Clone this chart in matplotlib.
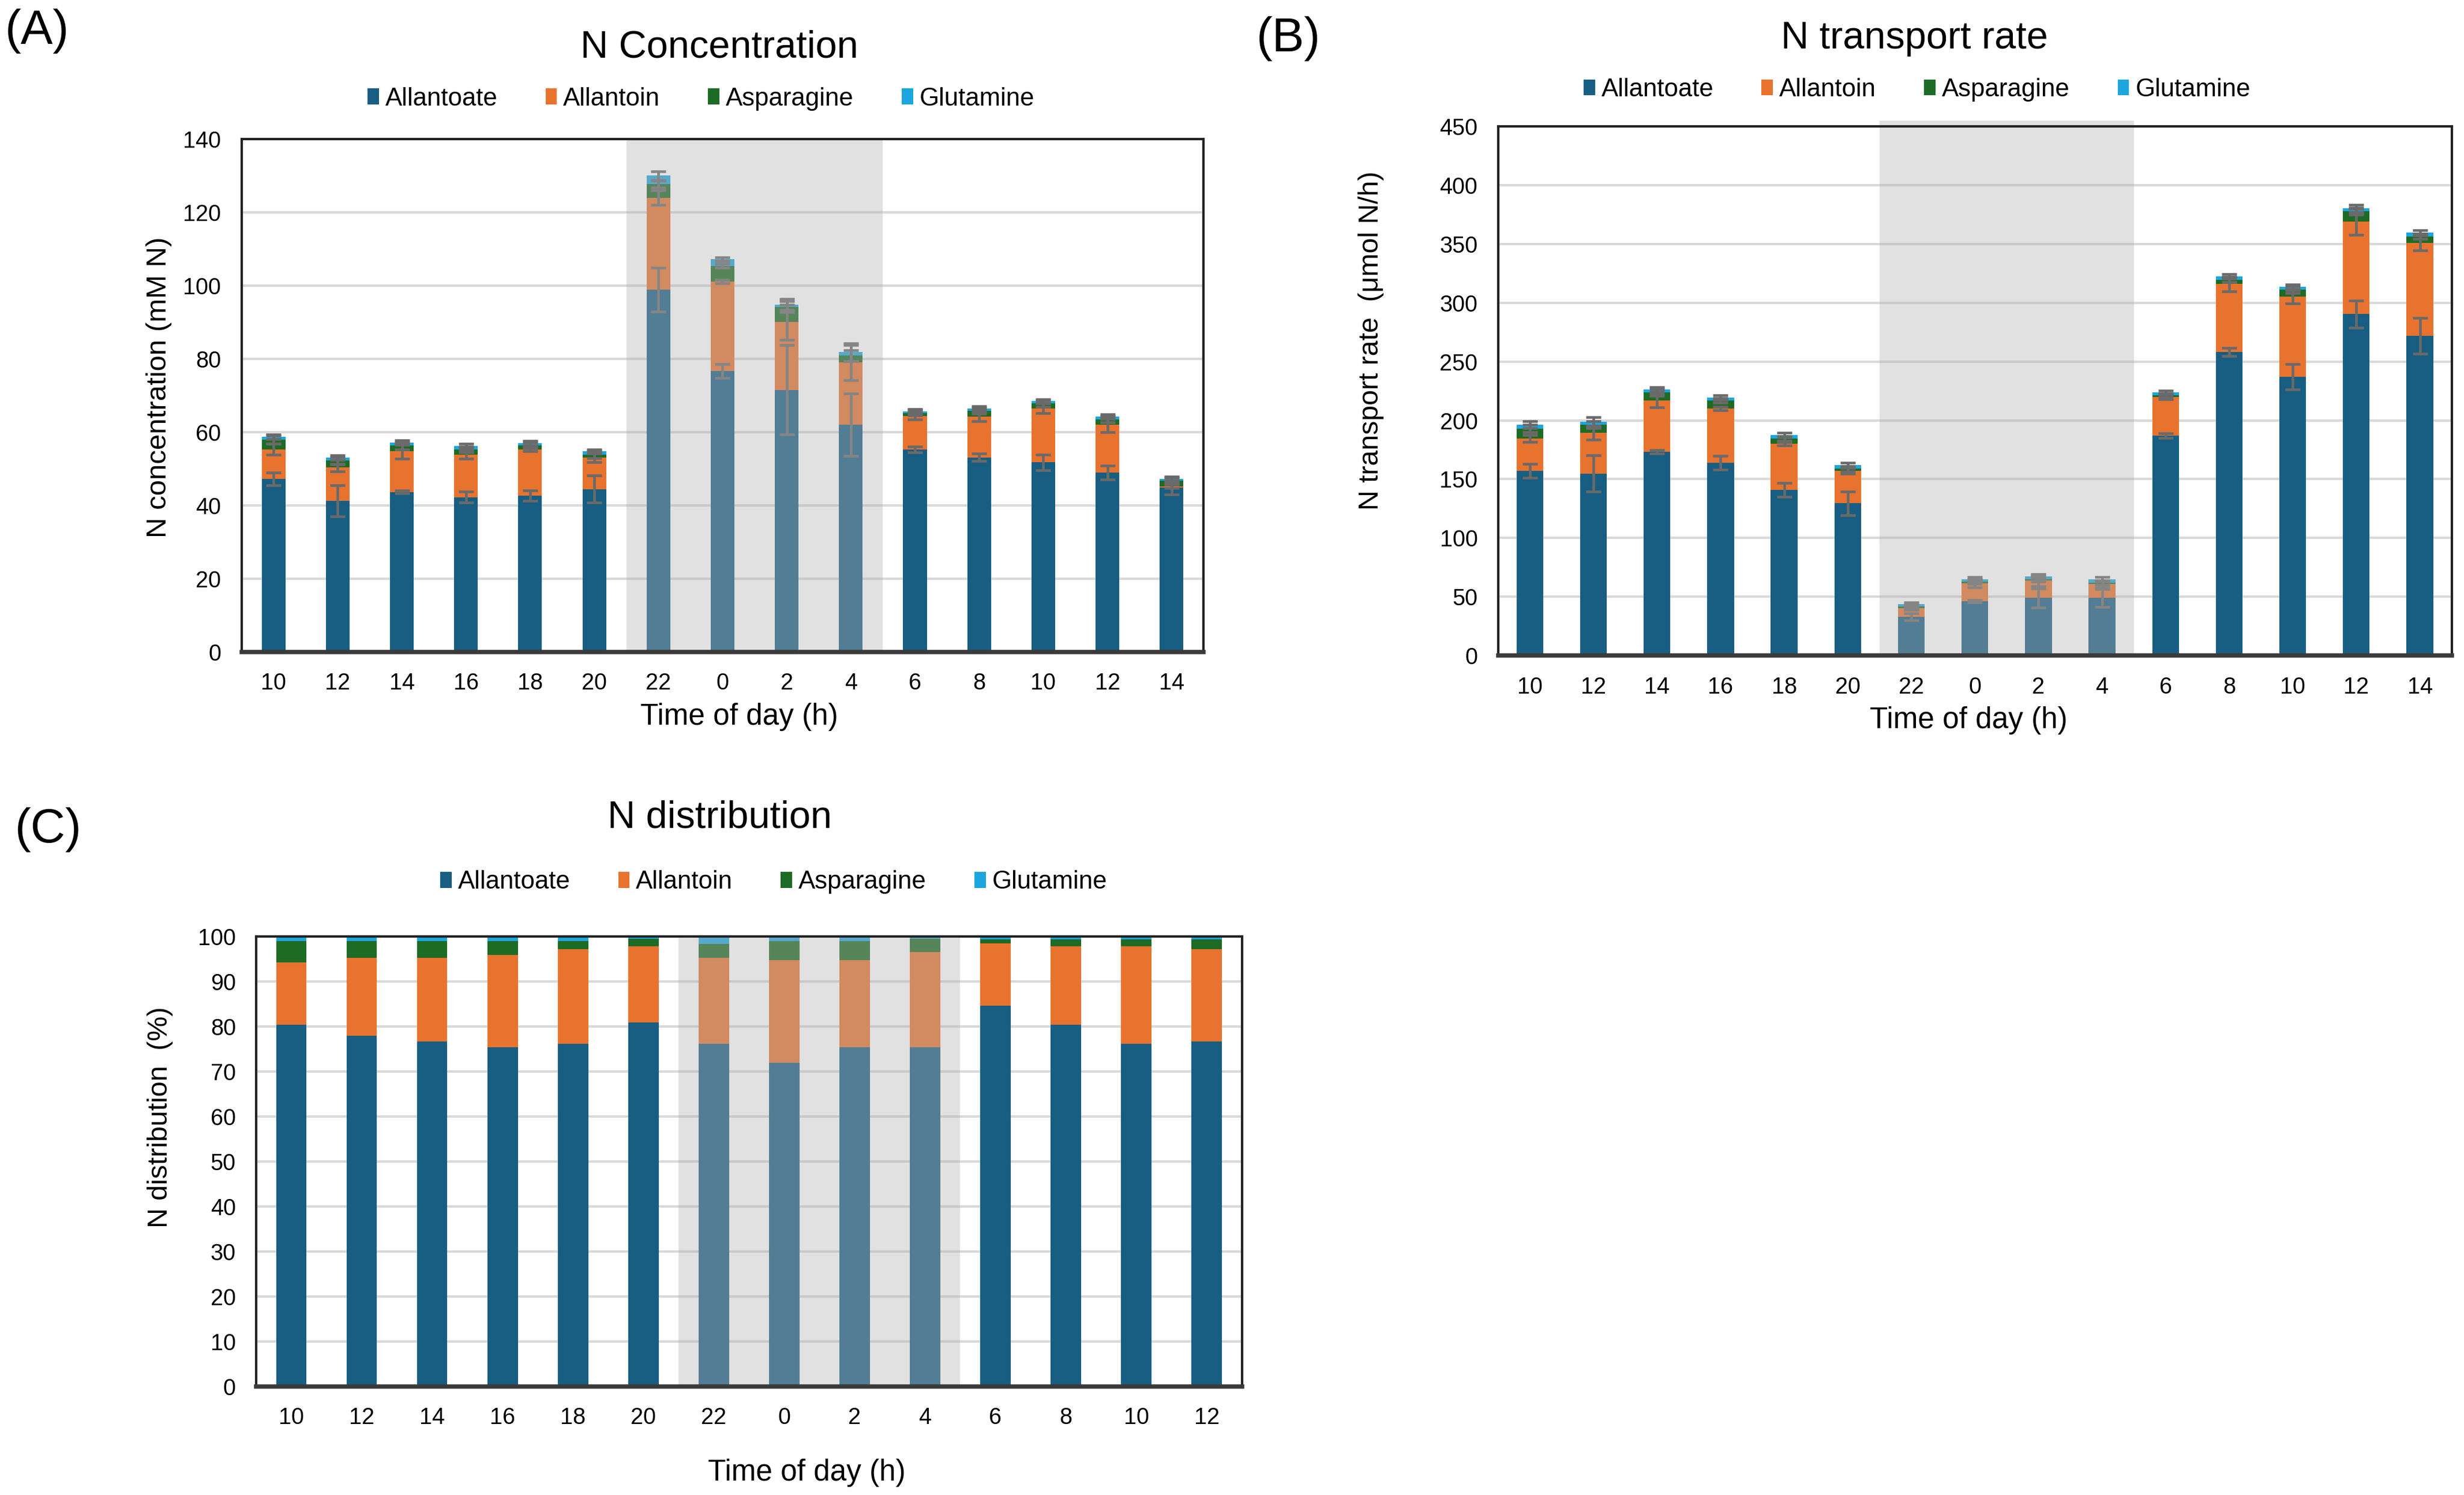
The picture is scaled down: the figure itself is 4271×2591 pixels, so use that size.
import numpy as np
import matplotlib
matplotlib.use("Agg")
import matplotlib.pyplot as plt
from matplotlib.patches import Patch, Rectangle

plt.rcParams['font.family'] = ['Liberation Sans', 'DejaVu Sans']

# ---- data ----
hours_ab = ['10', '12', '14', '16', '18', '20', '22', '0', '2', '4', '6', '8', '10', '12', '14']
hours_c = hours_ab[:14]
compounds = ['Allantoate', 'Allantoin', 'Asparagine', 'Glutamine']

# (A) N concentration, mM N (segment values)
conc_allantoate = [47.2, 41.2, 43.6, 42.2, 42.7, 44.4, 98.9, 76.7, 71.5, 62.0, 55.3, 53.1, 51.7, 48.9, 44.8]
conc_allantoin = [8.1, 9.1, 11.1, 11.7, 12.6, 8.7, 25.1, 24.4, 18.5, 17.0, 9.1, 11.1, 14.8, 13.1, 0.4]
conc_asparagine = [2.6, 1.9, 1.6, 1.4, 1.0, 0.8, 3.7, 4.3, 4.2, 1.9, 0.8, 1.6, 1.3, 1.5, 1.5]
conc_glutamine = [0.8, 0.8, 0.8, 0.9, 0.7, 0.8, 2.3, 1.8, 0.6, 0.9, 0.5, 0.7, 0.6, 0.7, 0.5]
conc_err_allantoate = [1.7, 4.2, 0.4, 1.5, 1.4, 3.7, 6.0, 1.9, 12.2, 8.5, 0.8, 1.0, 2.1, 1.9, 1.9]
conc_err_allantoin = [1.5, 1.0, 2.0, 1.1, 0.5, 1.4, 2.0, 0.5, 4.8, 4.8, 1.0, 1.3, 1.4, 2.0, 0.5]
conc_err_asparagine = [1.1, 1.0, 1.0, 0.8, 0.8, 1.0, 1.0, 0.6, 1.5, 1.5, 0.7, 0.8, 0.9, 0.9, 0.8]
conc_err_glutamine = [0.6, 0.6, 0.6, 0.6, 0.6, 0.6, 1.2, 0.5, 1.5, 2.5, 0.6, 0.6, 0.6, 0.6, 0.6]

# (B) N transport rate, umol N/h (segment values)
rate_allantoate = [157.0, 154.8, 173.2, 164.0, 141.0, 129.4, 32.8, 46.0, 49.0, 49.0, 187.0, 258.1, 237.0, 290.3, 272.0]
rate_allantoin = [27.5, 34.7, 43.8, 46.0, 39.3, 27.6, 7.7, 15.3, 14.8, 11.7, 33.1, 57.7, 68.0, 78.5, 79.0]
rate_asparagine = [8.6, 6.7, 6.8, 7.0, 4.2, 1.8, 1.5, 1.5, 1.2, 1.2, 1.2, 3.9, 6.2, 8.9, 5.5]
rate_glutamine = [3.1, 2.5, 2.4, 2.2, 3.1, 3.1, 1.8, 2.2, 2.4, 3.1, 2.5, 2.8, 2.4, 2.4, 3.1]
rate_err_allantoate = [5.8, 15.3, 1.5, 5.8, 5.8, 10.0, 3.0, 1.0, 8.0, 7.7, 2.0, 3.4, 10.7, 11.6, 15.2]
rate_err_allantoin = [3.0, 6.0, 5.8, 1.5, 1.5, 2.5, 1.5, 3.5, 5.0, 3.0, 2.0, 6.0, 5.7, 11.0, 6.4]
rate_err_asparagine = [3.0, 3.0, 3.0, 2.0, 2.0, 2.0, 1.5, 2.0, 2.0, 2.0, 1.5, 2.0, 3.0, 3.0, 2.0]
rate_err_glutamine = [3.0, 4.0, 2.0, 2.0, 2.0, 2.0, 1.5, 2.0, 2.0, 2.0, 1.5, 2.0, 2.0, 3.0, 2.0]

# (C) N distribution, %
dist_allantoate = [80.4, 77.9, 76.6, 75.4, 76.1, 80.9, 76.1, 71.9, 75.4, 75.4, 84.6, 80.4, 76.1, 76.6]
dist_allantoin = [13.8, 17.4, 18.7, 20.5, 21.1, 16.9, 19.2, 22.8, 19.3, 21.2, 13.8, 17.4, 21.7, 20.6]
dist_asparagine = [4.8, 3.7, 3.7, 3.1, 1.8, 1.7, 3.0, 4.3, 4.3, 2.9, 0.9, 1.5, 1.5, 2.1]
dist_glutamine = [1.0, 1.0, 1.0, 1.0, 1.0, 0.5, 1.7, 1.0, 1.0, 0.5, 0.7, 0.7, 0.7, 0.7]

colors = ['#175E82', '#E8732F', '#1E6B25', '#1DA6DE']
night = (5.5, 9.5)


def draw_panel(ax, labels, series, errors, ymax, ystep, width, shade_top=None):
    x = np.arange(len(labels))
    bottom = np.zeros(len(labels))
    for vals, col in zip(series, colors):
        vals = np.array(vals)
        ax.bar(x, vals, width, bottom=bottom, color=col, zorder=2, lw=0)
        bottom = bottom + vals
    if errors is not None:
        top = np.zeros(len(labels))
        for vals, err in zip(series, errors):
            top = top + np.array(vals)
            ax.errorbar(x, top, yerr=err, fmt='none', ecolor='#6a6a6a',
                        elinewidth=1.1, capsize=3.2, capthick=1.1, zorder=3)
    # night shading drawn over the bars
    h = ymax if shade_top is None else shade_top
    ax.add_patch(Rectangle((night[0], 0), night[1] - night[0], h, facecolor='#b1b1b1',
                           alpha=0.385, lw=0, zorder=5, clip_on=False))
    ax.set_xlim(-0.5, len(labels) - 0.5)
    ax.set_ylim(0, ymax)
    ax.set_yticks(np.arange(0, ymax + 1, ystep))
    ax.set_xticks(x)
    ax.set_xticklabels(labels)
    ax.tick_params(length=0, labelsize=9.5)
    ax.tick_params(axis='x', pad=8.5)
    ax.tick_params(axis='y', pad=8.5)
    ax.yaxis.grid(True, color='#d9d9d9', lw=1.0, zorder=0)
    ax.set_axisbelow(True)
    for s in ['top', 'left', 'right']:
        ax.spines[s].set_color('#222222')
        ax.spines[s].set_linewidth(1.0)
    ax.spines['bottom'].set_color('#3a3a3a')
    ax.spines['bottom'].set_linewidth(1.8)
    for s in ax.spines.values():
        s.set_zorder(6)


def add_legend(fig, cx, cy):
    handles = [Patch(facecolor=c, edgecolor='none') for c in colors]
    fig.legend(handles, compounds, loc='center', bbox_to_anchor=(cx, cy), ncol=4,
               frameon=False, fontsize=10.5, handlelength=0.45, handleheight=0.6,
               handletextpad=0.25, columnspacing=1.9)


def main():
    fig = plt.figure(figsize=(4271 / 300, 2591 / 300), dpi=300)

    ax_a = fig.add_axes([0.098, 0.564, 0.3905, 0.343])
    draw_panel(ax_a, hours_ab,
               [conc_allantoate, conc_allantoin, conc_asparagine, conc_glutamine],
               [conc_err_allantoate, conc_err_allantoin, conc_err_asparagine, conc_err_glutamine],
               140, 20, 0.37)

    ax_b = fig.add_axes([0.608, 0.5615, 0.387, 0.354])
    draw_panel(ax_b, hours_ab,
               [rate_allantoate, rate_allantoin, rate_asparagine, rate_glutamine],
               [rate_err_allantoate, rate_err_allantoin, rate_err_asparagine, rate_err_glutamine],
               450, 50, 0.42, shade_top=455)

    ax_c = fig.add_axes([0.104, 0.0727, 0.400, 0.3009])
    draw_panel(ax_c, hours_c,
               [dist_allantoate, dist_allantoin, dist_asparagine, dist_glutamine],
               None, 100, 10, 0.43)

    # titles, panel letters, legends, axis labels
    fig.text(0.292, 0.968, 'N Concentration', ha='center', va='center', fontsize=16)
    fig.text(0.777, 0.974, 'N transport rate', ha='center', va='center', fontsize=16)
    fig.text(0.292, 0.453, 'N distribution', ha='center', va='center', fontsize=16)

    fig.text(0.002, 0.979, '(A)', ha='left', va='center', fontsize=20)
    fig.text(0.510, 0.974, '(B)', ha='left', va='center', fontsize=20)
    fig.text(0.006, 0.445, '(C)', ha='left', va='center', fontsize=20)

    add_legend(fig, 0.2845, 0.934)
    add_legend(fig, 0.778, 0.940)
    add_legend(fig, 0.314, 0.410)

    fig.text(0.0645, 0.741, 'N concentration (mM N)', rotation=90, ha='center', va='center', fontsize=11.8)
    fig.text(0.5565, 0.772, 'N transport rate  (\u03bcmol N/h)', rotation=90, ha='center', va='center', fontsize=11.6)
    fig.text(0.065, 0.2525, 'N distribution  (%)', rotation=90, ha='center', va='center', fontsize=11.6)

    fig.text(0.30, 0.5205, 'Time of day (h)', ha='center', va='center', fontsize=12.3)
    fig.text(0.799, 0.518, 'Time of day (h)', ha='center', va='center', fontsize=12.3)
    fig.text(0.3275, 0.0147, 'Time of day (h)', ha='center', va='center', fontsize=12.3)

    fig.savefig('out.png', dpi=300)


if __name__ == "__main__":
    main()
